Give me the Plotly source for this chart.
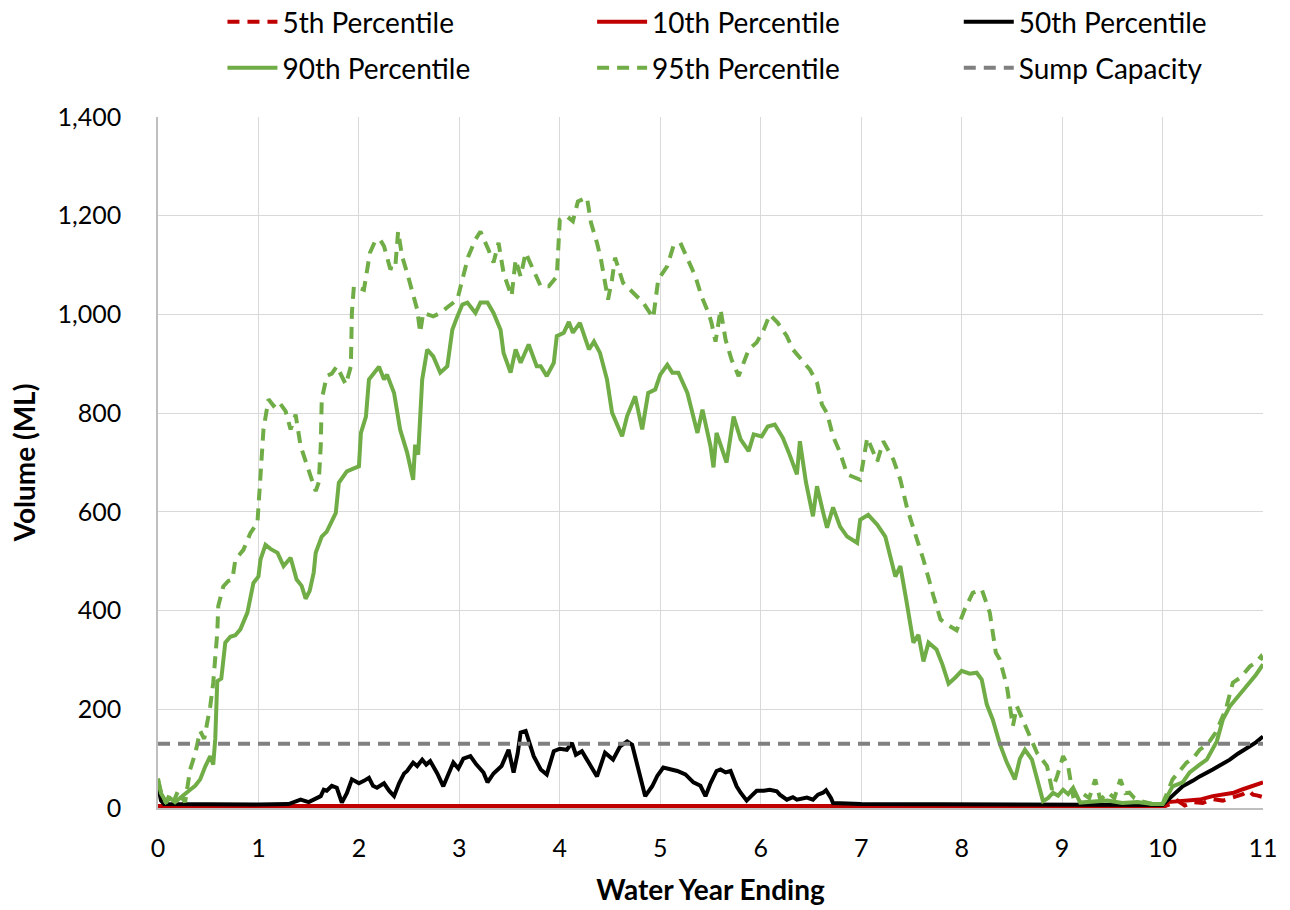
import plotly.graph_objects as go

# ---------------- data ----------------
p90_x = [0, 0.03, 0.08, 0.12, 0.17, 0.22, 0.27, 0.32, 0.37, 0.42, 0.47, 0.52, 0.55, 0.57, 0.59, 0.63, 0.67, 0.72, 0.77, 0.82,
         0.89, 0.95, 1.0, 1.02, 1.07, 1.12, 1.19, 1.25, 1.32, 1.38, 1.43, 1.47, 1.51, 1.55, 1.57, 1.63, 1.68, 1.72, 1.77, 1.8,
         1.88, 1.95, 2.0, 2.02, 2.07, 2.1, 2.15, 2.2, 2.25, 2.28, 2.35, 2.41, 2.48, 2.54, 2.56, 2.59, 2.63, 2.68, 2.74, 2.81,
         2.88, 2.93, 2.98, 3.03, 3.08, 3.16, 3.21, 3.28, 3.34, 3.41, 3.44, 3.51, 3.56, 3.61, 3.69, 3.77, 3.81, 3.87, 3.94, 3.97,
         4.04, 4.09, 4.13, 4.2, 4.29, 4.34, 4.4, 4.47, 4.52, 4.58, 4.62, 4.67, 4.75, 4.82, 4.88, 4.95, 5.0, 5.07, 5.12, 5.18,
         5.27, 5.37, 5.42, 5.5, 5.53, 5.56, 5.63, 5.66, 5.73, 5.8, 5.88, 5.93, 6.01, 6.07, 6.14, 6.22, 6.28, 6.36, 6.39, 6.45,
         6.52, 6.56, 6.62, 6.66, 6.72, 6.79, 6.86, 6.96, 6.99, 7.07, 7.16, 7.24, 7.34, 7.39, 7.45, 7.52, 7.57, 7.62, 7.67, 7.75,
         7.81, 7.87, 7.94, 8.0, 8.08, 8.15, 8.2, 8.25, 8.31, 8.38, 8.45, 8.53, 8.58, 8.63, 8.7, 8.76, 8.81, 8.86, 8.91, 8.96,
         9.01, 9.06, 9.11, 9.18, 9.3, 9.45, 9.6, 9.75, 9.9, 10.0, 10.02, 10.1, 10.2, 10.27, 10.37, 10.44, 10.54, 10.6, 10.67, 10.77,
         10.85, 10.93, 11.0]
p90_y = [60, 30, 12, 20, 12, 21, 28, 37, 45, 58, 84, 105, 88, 140, 257, 262, 335, 347, 350, 362,
         396, 456, 469, 503, 533, 525, 517, 490, 507, 463, 450, 424, 440, 477, 517, 550, 560, 578, 598, 659,
         682, 688, 692, 760, 793, 868, 882, 894, 868, 878, 841, 767, 720, 665, 736, 716, 868, 929, 915, 882,
         895, 969, 996, 1020, 1024, 1003, 1024, 1024, 1003, 969, 922, 882, 929, 902, 939, 895, 895, 875, 902, 956,
         963, 985, 963, 983, 929, 945, 922, 868, 801, 773, 753, 794, 834, 767, 841, 848, 878, 898, 882, 882,
         841, 760, 807, 733, 690, 760, 720, 700, 793, 747, 723, 757, 753, 773, 777, 750, 720, 676, 743, 660,
         591, 652, 600, 568, 609, 570, 550, 537, 584, 594, 574, 550, 469, 490, 420, 335, 351, 297, 335, 321,
         290, 252, 265, 278, 272, 274, 260, 210, 179, 130, 92, 58, 100, 118, 98, 55, 14, 20, 31, 25,
         37, 28, 41, 11, 12, 15, 10, 12, 8, 8, 14, 44, 52, 72, 88, 98, 135, 179, 206, 230,
         250, 270, 291]

p95_x = [0, 0.04, 0.08, 0.12, 0.16, 0.2, 0.24, 0.27, 0.32, 0.37, 0.42, 0.46, 0.52, 0.55, 0.59, 0.6, 0.65, 0.7, 0.74, 0.77,
         0.85, 0.92, 0.99, 1.02, 1.05, 1.1, 1.15, 1.2, 1.27, 1.32, 1.37, 1.42, 1.47, 1.52, 1.57, 1.6, 1.62, 1.63, 1.68, 1.73,
         1.78, 1.87, 1.92, 1.93, 1.95, 2.05, 2.11, 2.16, 2.21, 2.25, 2.31, 2.36, 2.39, 2.43, 2.49, 2.53, 2.58, 2.61, 2.64, 2.74,
         2.81, 2.89, 2.98, 3.03, 3.09, 3.16, 3.21, 3.29, 3.34, 3.39, 3.44, 3.48, 3.52, 3.56, 3.61, 3.66, 3.72, 3.81, 3.89, 3.97,
         4.0, 4.07, 4.13, 4.18, 4.27, 4.31, 4.37, 4.41, 4.48, 4.52, 4.55, 4.63, 4.73, 4.83, 4.93, 4.98, 5.07, 5.13, 5.2, 5.28,
         5.35, 5.41, 5.48, 5.51, 5.55, 5.6, 5.65, 5.71, 5.78, 5.88, 5.96, 6.03, 6.09, 6.17, 6.26, 6.32, 6.41, 6.49, 6.56, 6.61,
         6.66, 6.72, 6.79, 6.86, 6.99, 7.06, 7.16, 7.22, 7.32, 7.39, 7.46, 7.55, 7.62, 7.72, 7.79, 7.87, 7.95, 8.03, 8.11, 8.2,
         8.28, 8.34, 8.38, 8.45, 8.51, 8.55, 8.65, 8.75, 8.85, 8.9, 8.95, 9.01, 9.06, 9.11, 9.2, 9.27, 9.33, 9.38, 9.46, 9.52,
         9.58, 9.63, 9.67, 9.72, 9.78, 9.9, 10.0, 10.1, 10.17, 10.24, 10.3, 10.37, 10.45, 10.53, 10.63, 10.7, 10.78, 10.87, 10.93, 10.98,
         11.0]
p95_y = [55, 25, 10, 30, 15, 35, 20, 12, 78, 110, 156, 140, 206, 254, 355, 409, 449, 460, 463, 503,
         523, 557, 578, 665, 767, 828, 815, 824, 804, 767, 797, 733, 700, 672, 642, 660, 733, 828, 875, 880,
         895, 858, 895, 1003, 1057, 1050, 1125, 1148, 1152, 1138, 1094, 1091, 1168, 1118, 1077, 1044, 1010, 963, 1003, 996,
         1003, 1016, 1030, 1071, 1118, 1152, 1168, 1131, 1105, 1145, 1084, 1060, 1037, 1111, 1077, 1125, 1098, 1057, 1057, 1077,
         1192, 1199, 1189, 1229, 1237, 1186, 1145, 1111, 1030, 1071, 1115, 1064, 1044, 1024, 993, 1071, 1098, 1138, 1145, 1111,
         1077, 1037, 1003, 983, 945, 1010, 949, 908, 875, 929, 943, 969, 1000, 983, 956, 929, 908, 888, 862, 817,
         800, 753, 720, 676, 665, 750, 702, 743, 706, 665, 605, 550, 503, 429, 382, 370, 360, 402, 436, 443,
         396, 315, 301, 247, 166, 206, 159, 112, 85, 37, 64, 105, 85, 24, 30, 20, 58, 17, 31, 20,
         58, 30, 31, 20, 14, 8, 8, 58, 75, 92, 100, 118, 130, 153, 200, 254, 265, 287, 295, 307,
         300]

p50_x = [0, 0.03, 0.06, 0.5, 1.0, 1.3, 1.42, 1.5, 1.57, 1.62, 1.65, 1.68, 1.73, 1.78, 1.83, 1.88, 1.93, 2.0, 2.05, 2.1,
         2.14, 2.18, 2.25, 2.3, 2.35, 2.4, 2.45, 2.48, 2.54, 2.58, 2.63, 2.67, 2.71, 2.78, 2.84, 2.89, 2.94, 2.99, 3.04, 3.11,
         3.17, 3.24, 3.28, 3.34, 3.42, 3.49, 3.54, 3.58, 3.61, 3.66, 3.7, 3.74, 3.81, 3.87, 3.94, 4.0, 4.07, 4.12, 4.16, 4.22,
         4.27, 4.32, 4.37, 4.45, 4.53, 4.6, 4.67, 4.72, 4.77, 4.85, 4.92, 4.97, 5.03, 5.1, 5.17, 5.25, 5.33, 5.4, 5.45, 5.5,
         5.56, 5.6, 5.65, 5.7, 5.76, 5.8, 5.86, 5.91, 5.96, 6.03, 6.09, 6.16, 6.19, 6.26, 6.32, 6.36, 6.46, 6.52, 6.57, 6.62,
         6.65, 6.7, 6.72, 7.0, 8.0, 9.0, 9.5, 10.0, 10.1, 10.2, 10.3, 10.37, 10.5, 10.6, 10.67, 10.75, 10.85, 10.93, 11.0]
p50_y = [45, 15, 8, 7, 7, 8, 17, 12, 20, 24, 37, 35, 45, 41, 11, 30, 58, 50, 55, 61,
         45, 41, 50, 35, 24, 50, 70, 75, 92, 85, 98, 88, 95, 70, 44, 70, 92, 80, 100, 105,
         88, 72, 52, 70, 85, 118, 72, 110, 153, 156, 130, 105, 78, 68, 115, 120, 118, 132, 108, 115,
         98, 80, 64, 112, 98, 125, 135, 128, 85, 24, 44, 65, 82, 78, 75, 68, 52, 45, 24, 50,
         75, 78, 72, 75, 44, 31, 15, 25, 35, 35, 37, 34, 27, 17, 22, 17, 21, 17, 27, 31,
         36, 20, 10, 8, 7, 6, 6, 6, 25, 44, 55, 64, 78, 90, 98, 110, 122, 133, 145]

p10_x = [0, 5.0, 10.0, 10.05, 10.15, 10.25, 10.37, 10.5, 10.6, 10.71, 10.8, 10.9, 11.0]
p10_y = [4, 4, 4, 12, 14, 16, 17, 24, 28, 31, 38, 45, 52]

p5_x = [0, 5.0, 10.0, 10.08, 10.15, 10.22, 10.3, 10.4, 10.5, 10.6, 10.7, 10.8, 10.86, 10.9, 10.95, 11.0]
p5_y = [2, 2, 2, 8, 15, 5, 12, 10, 18, 15, 22, 28, 35, 27, 25, 22]

sump_x = [0, 11]
sump_y = [130, 130]

GREEN = "#70AD47"
RED = "#C00000"
BLACK = "#000000"
GRAY = "#808080"
DASH = "12px,8px"
FONT = "Lato, 'Open Sans', sans-serif"
LW = 4

# plot-area geometry in pixels (used only to place legends)
L, R, T, B = 157.5, 26.5, 117, 101.5
PW, PH = 1290 - L - R, 910 - T - B


def px_x(px):
    return (px - L) / PW


def px_y(py):
    return (910 - B - py) / PH


series = [
    ("5th Percentile", p5_x, p5_y, RED, DASH),
    ("10th Percentile", p10_x, p10_y, RED, "solid"),
    ("50th Percentile", p50_x, p50_y, BLACK, "solid"),
    ("90th Percentile", p90_x, p90_y, GREEN, "solid"),
    ("95th Percentile", p95_x, p95_y, GREEN, DASH),
    ("Sump Capacity", sump_x, sump_y, GRAY, DASH),
]
leg_pos = [(222, 22), (592, 22), (959, 22), (222, 68), (592, 68), (959, 68)]

fig = go.Figure()
layout_legends = {}
for i, ((name, xs, ys, col, dash), (lx, ly)) in enumerate(zip(series, leg_pos)):
    key = "legend" if i == 0 else f"legend{i + 1}"
    fig.add_trace(go.Scatter(x=xs, y=ys, name=name, mode="lines", showlegend=True,
                             line=dict(color=col, width=LW, dash=dash), legend=key))
    layout_legends[key] = dict(x=px_x(lx), y=px_y(ly), xanchor="left", yanchor="middle",
                               orientation="h", itemwidth=50, visible=True,
                               font=dict(family=FONT, size=28, color="#000000"),
                               bgcolor="rgba(0,0,0,0)")

fig.update_layout(
    width=1290, height=910,
    showlegend=True,
    margin=dict(l=L, r=R, t=T, b=B, autoexpand=False),
    paper_bgcolor="white", plot_bgcolor="white",
    font=dict(family=FONT, color="#000000"),
    xaxis=dict(range=[0, 11], dtick=1, tick0=0, showgrid=True, gridcolor="#D9D9D9", gridwidth=1.3,
               showline=True, linecolor="#BFBFBF", linewidth=1.5, zeroline=False,
               ticks="outside", ticklen=17, tickcolor="rgba(0,0,0,0)",
               tickfont=dict(family=FONT, size=25, color="#000000"),
               title=dict(text="<b>Water Year Ending</b>", font=dict(family=FONT, size=28, color="#000000"),
                          standoff=20)),
    yaxis=dict(range=[0, 1400], dtick=200, tick0=0, tickformat=",d", showgrid=True, gridcolor="#D9D9D9",
               gridwidth=1.3, showline=True, linecolor="#BFBFBF", linewidth=1.5, zeroline=False,
               ticks="outside", ticklen=30, tickcolor="rgba(0,0,0,0)",
               tickfont=dict(family=FONT, size=25, color="#000000"),
               title=dict(text="<b>Volume (ML)</b>", font=dict(family=FONT, size=28, color="#000000"),
                          standoff=14)),
    **layout_legends,
)

fig.write_html("out.html")
